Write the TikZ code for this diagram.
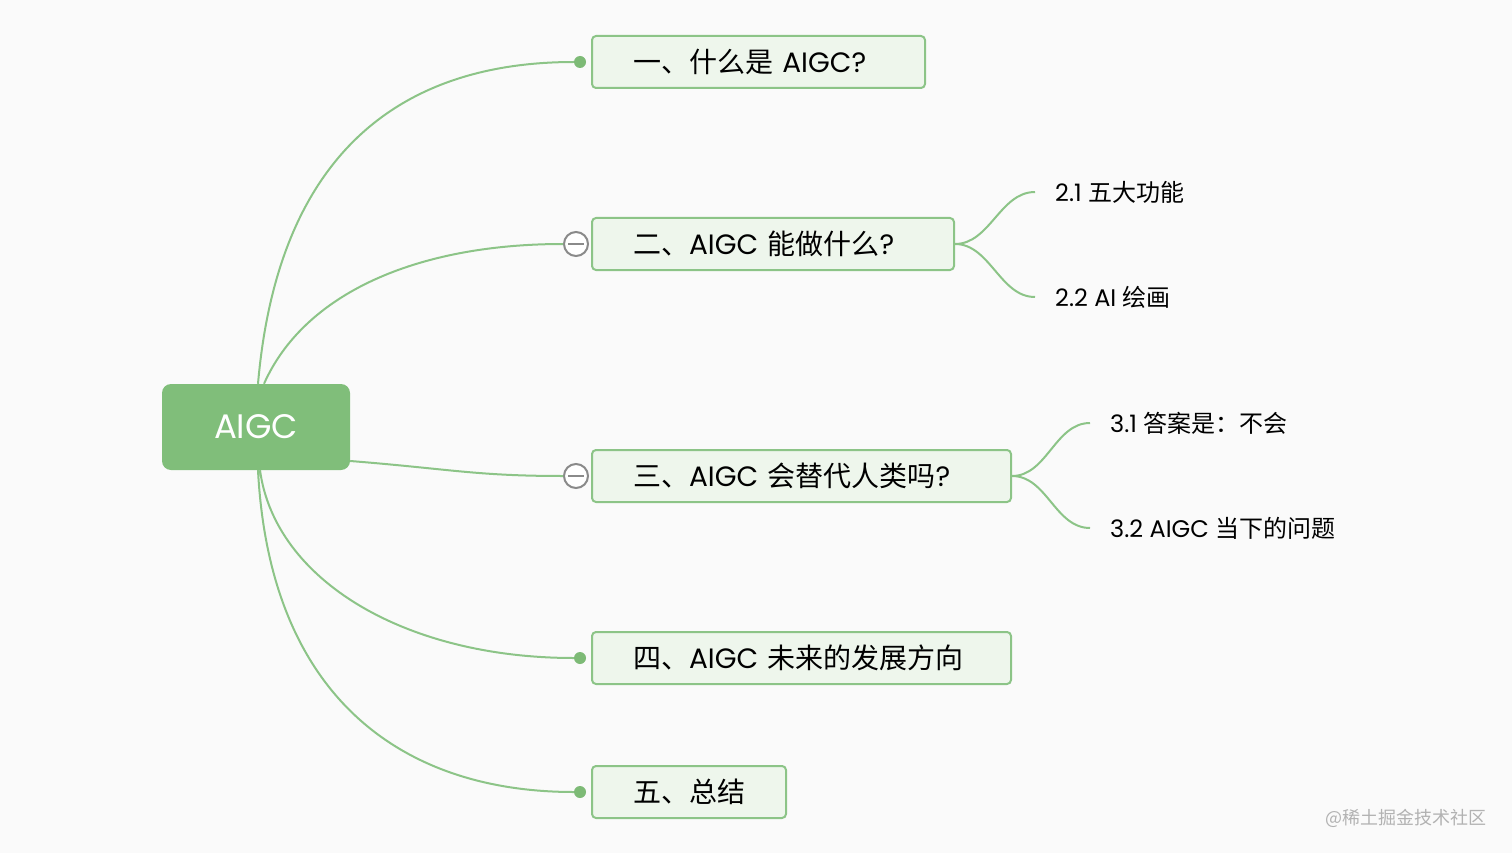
\documentclass[tikz,border=0pt]{standalone}
\usepackage{xcolor}
\usepackage{fontspec}
\setmainfont{Noto Sans CJK SC}
\newfontfamily\lat{Poppins}

\definecolor{rootgreen}{HTML}{80BE7A}
\definecolor{boxfill}{HTML}{EEF6EC}
\definecolor{boxline}{HTML}{8CC487}
\definecolor{branchgreen}{HTML}{8CC487}
\definecolor{dotgreen}{HTML}{7DBA76}
\definecolor{foldgray}{HTML}{8A8A8A}
\definecolor{paper}{HTML}{FAFAFA}

\tikzset{
  root/.style={fill=rootgreen, rounded corners=9pt, minimum width=188pt, minimum height=86pt,
    text=white, font=\lat\fontsize{34}{36}\selectfont},
  topic/.style={draw=boxline, fill=boxfill, rounded corners=4pt, line width=2pt,
    minimum height=52pt, inner xsep=41pt, anchor=west, text width=#1, align=left,
    font=\fontsize{28}{30}\selectfont},
  sub/.style={anchor=west, inner xsep=20pt, font=\fontsize{24}{26}\selectfont},
  branch/.style={draw=branchgreen, line width=2pt},
  dot/.style={circle, fill=dotgreen, inner sep=0pt, minimum size=12pt},
  fold/.style={circle, draw=foldgray, fill=white, line width=2pt, minimum size=24pt, inner sep=0pt,
    path picture={\draw[foldgray, line width=2pt]
      ([xshift=-8pt]path picture bounding box.center) -- ([xshift=8pt]path picture bounding box.center);}},
}

\begin{document}
\begin{tikzpicture}[x=1pt, y=-1pt]
\fill[paper] (0,0) rectangle (1512,853);
\useasboundingbox (0,0) rectangle (1512,853);

% centre
\node[root] at(256,427)(root){AIGC};

% first level
\node[topic=251pt] at(591,62)(t1){一、什么是 {\lat AIGC?}};
\node[topic=280pt] at(591,244)(t2){二、{\lat AIGC} 能做什么{\lat ?}};
\node[topic=337pt] at(591,476)(t3){三、{\lat AIGC} 会替代人类吗{\lat ?}};
\node[topic=337pt] at(591,658)(t4){四、{\lat AIGC} 未来的发展方向};
\node[topic=112pt] at(591,792)(t5){五、总结};

\node[dot] at([xshift=-11pt]t1.west)(d1){};
\node[fold] at([xshift=-15pt]t2.west)(f2){};
\node[fold] at([xshift=-15pt]t3.west)(f3){};
\node[dot] at([xshift=-11pt]t4.west)(d4){};
\node[dot] at([xshift=-11pt]t5.west)(d5){};

% second level
\node[sub] at(1035,192)(s21){{\lat 2.1 }五大功能};
\node[sub] at(1035,297)(s22){{\lat 2.2 AI }绘画};
\node[sub] at(1090,423)(s31){{\lat 3.1 }答案是：不会};
\node[sub] at(1090,528)(s32){{\lat 3.2 AIGC }当下的问题};

\path[branch]
    ([xshift=2pt]root.north) .. controls +(22,-254) and +(-155,0) .. (d1)
    ([xshift=8pt]root.north) .. controls +(40,-90) and +(-160,0) .. (f2)
    ([yshift=-34pt]root.east) .. controls +(100,8) and +(-100,0) .. (f3)
    ([xshift=4pt]root.south) .. controls +(15,110) and +(-175,0) .. (d4)
    ([xshift=2pt]root.south) .. controls +(12,230) and +(-175,0) .. (d5);

\path[branch]
    (t2.east) .. controls +(35,0) and +(-35,0) .. (s21.west)
    (t2.east) .. controls +(35,0) and +(-35,0) .. (s22.west)
    (t3.east) .. controls +(35,0) and +(-35,0) .. (s31.west)
    (t3.east) .. controls +(35,0) and +(-35,0) .. (s32.west);

% watermark
\node[anchor=east, text=black!30, font=\fontsize{18}{20}\selectfont] at(1490,818)(mark){@稀土掘金技术社区};
\end{tikzpicture}
\end{document}
